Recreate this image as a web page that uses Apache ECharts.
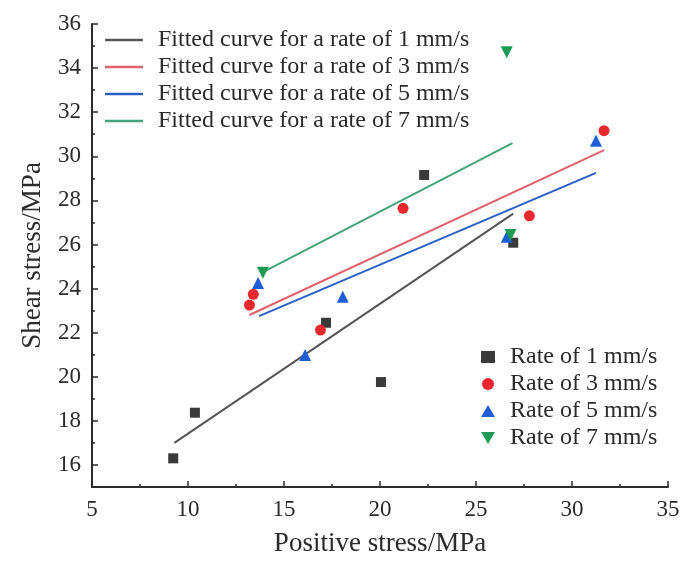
<!DOCTYPE html>
<html>
<head>
<meta charset="utf-8">
<script src="https://cdn.jsdelivr.net/npm/echarts@6/dist/echarts.min.js"></script>
<style>
  html, body { margin: 0; padding: 0; background: #fff; }
  #chart { width: 683px; height: 562px; }
</style>
</head>
<body>
<div id="chart"></div>
<script>
// measured points [positive stress, shear stress]
const rate1 = [[9.23, 16.3], [10.36, 18.37], [17.19, 22.45], [20.05, 19.76], [22.3, 29.15], [26.94, 26.08]]
const rate3 = [[13.2, 23.25], [13.4, 23.74], [16.9, 22.12], [21.2, 27.64], [27.78, 27.3], [31.67, 31.16]]
const rate5 = [[13.65, 24.25], [16.1, 20.99], [18.06, 23.63], [26.6, 26.35], [31.25, 30.7]]
const rate7 = [[13.9, 24.72], [26.6, 34.72], [26.8, 26.43]]

// fitted line end points
const fit1 = [[9.29, 17.0], [26.94, 27.4]]
const fit3 = [[13.2, 22.8], [31.67, 30.28]]
const fit5 = [[13.7, 22.75], [31.25, 29.25]]
const fit7 = [[13.9, 24.75], [26.9, 30.6]]

const fitNames = [
  'Fitted curve for a rate of 1 mm/s',
  'Fitted curve for a rate of 3 mm/s',
  'Fitted curve for a rate of 5 mm/s',
  'Fitted curve for a rate of 7 mm/s',
]
const rateNames = ['Rate of 1 mm/s', 'Rate of 3 mm/s', 'Rate of 5 mm/s', 'Rate of 7 mm/s']

const yMajorTicks = [16, 18, 20, 22, 24, 26, 28, 30, 32, 34, 36]
const yMinorTicks = [15, 17, 19, 21, 23, 25, 27, 29, 31, 33, 35]

const font = '"Liberation Serif", "Times New Roman", serif'
const textColor = '#2b2b2b'
const axisColor = '#2b2b2b'
const downTriangle = 'path://M0,0L10,0L5,8.66Z'

const chart = echarts.init(document.getElementById('chart'), null, { renderer: 'canvas' })

function fitLine(name, data, color) {
  return {
    name: name,
    type: 'line',
    data: data,
    symbol: 'none',
    showSymbol: false,
    lineStyle: { color: color, width: 2 },
    itemStyle: { color: color },
    z: 2,
  }
}

function points(name, data, color, symbol, size) {
  return {
    name: name,
    type: 'scatter',
    data: data,
    symbol: symbol,
    symbolSize: size,
    itemStyle: { color: color, opacity: 1 },
    z: 3,
  }
}

chart.setOption({
  animation: false,
  backgroundColor: '#ffffff',
  textStyle: { fontFamily: font },
  grid: {
    left: 92,
    right: 15,
    top: 24,
    bottom: 75,
    containLabel: false,
  },
  legend: [
    {
      data: fitNames,
      orient: 'vertical',
      left: 100,
      top: 23,
      icon: 'rect',
      itemWidth: 38,
      itemHeight: 2.5,
      itemGap: 3,
      textStyle: { fontFamily: font, fontSize: 24, color: textColor, lineHeight: 24, padding: [0, 0, 0, 10] },
    },
    {
      data: rateNames,
      orient: 'vertical',
      left: 476,
      top: 340,
      itemWidth: 14,
      itemHeight: 12,
      itemGap: 3,
      textStyle: { fontFamily: font, fontSize: 24, color: textColor, lineHeight: 24, padding: [0, 0, 0, 10] },
    },
  ],
  xAxis: {
    type: 'value',
    min: 5,
    max: 35,
    interval: 5,
    name: 'Positive stress/MPa',
    nameLocation: 'middle',
    nameGap: 43,
    nameTextStyle: { fontFamily: font, fontSize: 27, color: textColor },
    axisLine: { lineStyle: { color: axisColor, width: 2 } },
    axisTick: { inside: true, length: 6, lineStyle: { color: axisColor, width: 1.5 } },
    minorTick: { show: true, splitNumber: 2, length: 3, lineStyle: { color: axisColor, width: 1.5 } },
    axisLabel: { fontFamily: font, fontSize: 23, color: textColor, margin: 11 },
    splitLine: { show: false },
  },
  yAxis: [
    {
      type: 'value',
      min: 15,
      max: 36,
      name: 'Shear stress/MPa',
      nameLocation: 'middle',
      nameGap: 46,
      nameTextStyle: { fontFamily: font, fontSize: 27, color: textColor },
      axisLine: { show: true, lineStyle: { color: axisColor, width: 2 } },
      axisTick: { inside: true, length: 6, customValues: yMajorTicks, lineStyle: { color: axisColor, width: 1.5 } },
      axisLabel: { fontFamily: font, fontSize: 23, color: textColor, margin: 11, customValues: yMajorTicks },
      splitLine: { show: false },
    },
    {
      type: 'value',
      min: 15,
      max: 36,
      position: 'left',
      axisLine: { show: false },
      axisTick: { show: true, inside: true, length: 3, customValues: yMinorTicks, lineStyle: { color: axisColor, width: 1.5 } },
      axisLabel: { show: false },
      splitLine: { show: false },
    },
  ],
  series: [
    fitLine(fitNames[0], fit1, '#555555'),
    fitLine(fitNames[1], fit3, '#e0606e'),
    fitLine(fitNames[2], fit5, '#2a5fc4'),
    fitLine(fitNames[3], fit7, '#44a478'),
    points(rateNames[0], rate1, '#3a3a3a', 'rect', 10),
    points(rateNames[1], rate3, '#e8282d', 'circle', 11),
    points(rateNames[2], rate5, '#1f5fd6', 'triangle', 12),
    points(rateNames[3], rate7, '#1f9a55', downTriangle, 12),
  ],
})
</script>
</body>
</html>
